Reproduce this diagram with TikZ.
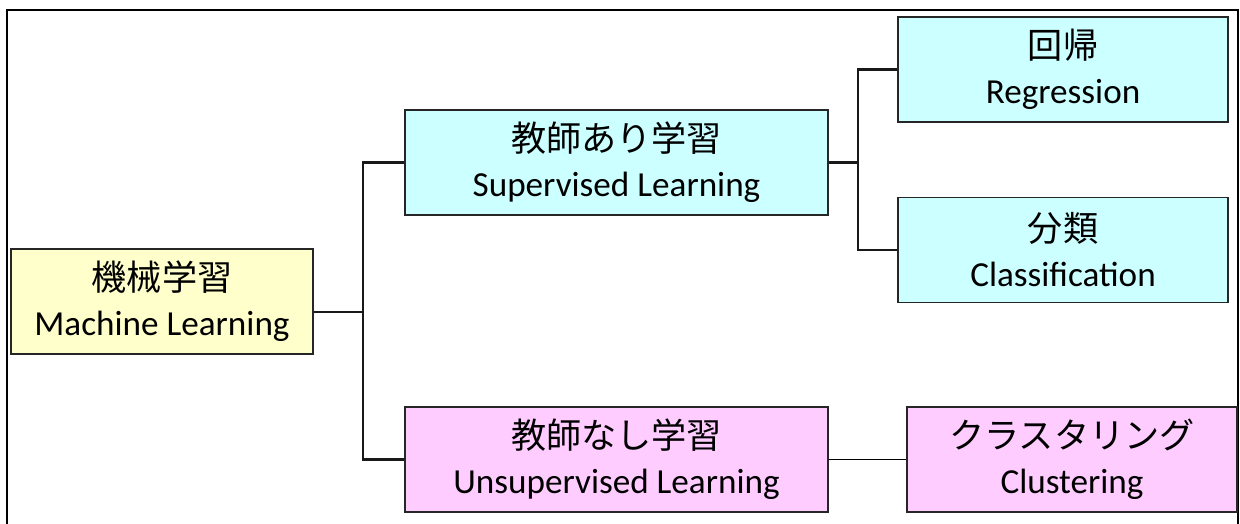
\documentclass[tikz,border=0pt]{standalone}
\usepackage{fontspec}
\setmainfont{Carlito}
\newfontfamily\jp{Noto Sans CJK JP}
\usepackage[svgnames]{xcolor}
\definecolor{boxyellow}{HTML}{FFFFCC}
\definecolor{boxcyan}{HTML}{CCFFFF}
\definecolor{boxpink}{HTML}{FFCCFF}
\tikzset{
  mlbox/.style={draw=black!85, line width=1.1pt, inner sep=0pt,
    minimum height=2.625cm, align=center,
    font=\fontsize{25}{32}\selectfont},
  bus/.style={line width=1.5pt, black!90}
}
\newcommand{\jptext}[1]{{\jp\fontsize{25}{32}\selectfont #1}}

\begin{document}
\begin{tikzpicture}[x=0.025cm, y=-0.025cm]
  \useasboundingbox (0,0) rectangle (1240,524);

  % 外枠
  \draw[line width=0.8pt] (7,524) -- (7,10) -- (1238,10) -- (1238,524);

  % ノード
  \node[mlbox, fill=boxyellow, minimum width=7.55cm] (ml) at (162,301.5)
    {\jptext{機械学習}\\Machine Learning};
  \node[mlbox, fill=boxcyan, minimum width=10.575cm] (sup) at (616.5,162.5)
    {\jptext{教師あり学習}\\Supervised Learning};
  \node[mlbox, fill=boxpink, minimum width=10.575cm] (uns) at (616.5,459.5)
    {\jptext{教師なし学習}\\Unsupervised Learning};
  \node[mlbox, fill=boxcyan, minimum width=8.25cm] (reg) at (1063,69.5)
    {\jptext{回帰}\\Regression};
  \node[mlbox, fill=boxcyan, minimum width=8.25cm] (cls) at (1063,250)
    {\jptext{分類}\\Classification};
  \node[mlbox, fill=boxpink, minimum width=8.25cm] (clu) at (1072,459.5)
    {\jptext{クラスタリング}\\Clustering};

  % 分岐点
  \coordinate (b1) at (363,312);
  \coordinate (b2) at (858,162.5);

  % 接続線
  \draw[bus] (ml.east |- b1) -- (b1);
  \draw[bus] (sup.west) -| (b1) |- (uns.west);
  \draw[bus] (sup.east) -- (b2);
  \draw[bus] (reg.west) -| (b2) |- (cls.west);
  \draw[line width=0.9pt] (uns.east) -- (clu.west);
\end{tikzpicture}
\end{document}
